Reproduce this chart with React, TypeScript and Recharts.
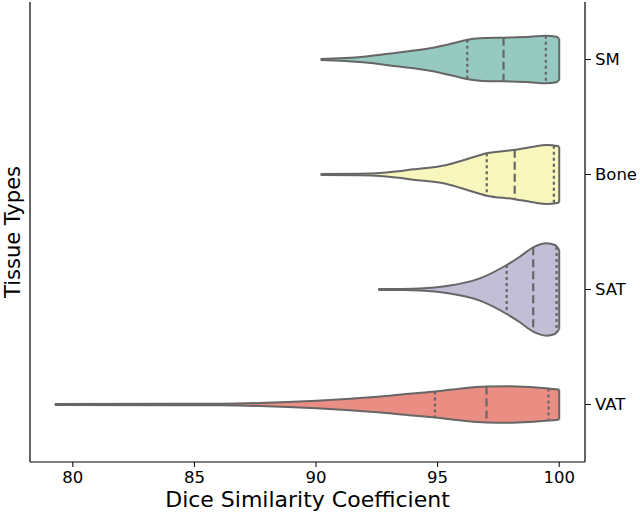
/** Dice similarity per tissue type — horizontal violins with quartile lines. */
import { Area, ComposedChart, ReferenceLine, XAxis, YAxis } from 'recharts'

const categories = ['SM', 'Bone', 'SAT', 'VAT']
const xTicks = [80, 85, 90, 95, 100]

// profile of each violin: dice value -> half width (in category units)
const smDice = [90.19, 91.94, 93.32, 94.69, 95.64, 96.19, 96.74, 97.71, 98.8, 99.45, 99.89, 100.0]
const smDensity = [0.004, 0.024, 0.059, 0.097, 0.141, 0.17, 0.184, 0.19, 0.198, 0.207, 0.198, 0.178]
const smQuartiles = [96.22, 97.71, 99.45]

const boneDice = [90.19, 91.8, 92.63, 93.3, 94.0, 95.37, 96.19, 97.02, 98.11, 98.93, 99.48, 99.96, 100.0]
const boneDensity = [0.004, 0.006, 0.012, 0.026, 0.045, 0.083, 0.132, 0.184, 0.213, 0.242, 0.257, 0.245, 0.24]
const boneQuartiles = [97.02, 98.17, 99.78]

const satDice = [92.56, 93.6, 94.27, 95.37, 96.74, 97.84, 98.38, 98.93, 99.48, 99.82, 100.0]
const satDensity = [0.004, 0.005, 0.009, 0.03, 0.097, 0.213, 0.285, 0.367, 0.402, 0.387, 0.343]
const satQuartiles = [97.84, 98.93, 99.89]

const vatDice = [79.26, 86.1, 87.67, 90.02, 92.38, 93.95, 94.89, 96.0, 97.01, 97.9, 98.8, 99.56, 100.0]
const vatDensity = [0.004, 0.007, 0.013, 0.033, 0.066, 0.096, 0.113, 0.14, 0.156, 0.159, 0.152, 0.14, 0.13]
const vatQuartiles = [94.89, 97.01, 99.56]

const COLORS = ['#96cac1', '#f6f6bd', '#c1bed6', '#ea8d83']
const GRAY = '#666666'
const FONT = '"DejaVu Sans", sans-serif'
const X_DOMAIN: [number, number] = [78.24, 101.06]
const Y_DOMAIN: [number, number] = [-0.5, 3.5]

const violins = [
  { name: 'SM', dice: smDice, density: smDensity, quartiles: smQuartiles },
  { name: 'Bone', dice: boneDice, density: boneDensity, quartiles: boneQuartiles },
  { name: 'SAT', dice: satDice, density: satDensity, quartiles: satQuartiles },
  { name: 'VAT', dice: vatDice, density: vatDensity, quartiles: vatQuartiles },
]

// one row per profile sample, each row only carries its own violin's range
const rows = violins.flatMap((v, i) =>
  v.dice.map((x, j) => ({ x, [v.name]: [i - v.density[j], i + v.density[j]] })),
)

function widthAt(dice: number[], density: number[], q: number) {
  for (let j = 1; j < dice.length; j++) {
    if (q <= dice[j]) {
      const t = (q - dice[j - 1]) / (dice[j] - dice[j - 1])
      return density[j - 1] + t * (density[j] - density[j - 1])
    }
  }
  return density[density.length - 1]
}

export default function App() {
  return (
    <div style={{ position: 'absolute', left: 0, top: 0, width: 640, height: 514, background: '#fff' }}>
      <ComposedChart width={640} height={514} data={rows} margin={{ top: 2, right: 0, bottom: 0, left: 0 }}>
        <XAxis
          dataKey="x"
          type="number"
          domain={X_DOMAIN}
          allowDataOverflow
          ticks={xTicks}
          height={52}
          tickSize={5}
          tickMargin={4}
          axisLine={{ stroke: '#000', strokeWidth: 1.2 }}
          tickLine={{ stroke: '#000', strokeWidth: 1 }}
          tick={{ fill: '#000', fontSize: 16.5, fontFamily: FONT }}
          label={{
            value: 'Dice Similarity Coefficient',
            position: 'insideBottom',
            offset: 7,
            fill: '#000',
            fontSize: 22,
            fontFamily: FONT,
          }}
        />
        <XAxis
          xAxisId="top"
          orientation="top"
          dataKey="x"
          type="number"
          domain={X_DOMAIN}
          allowDataOverflow
          height={0}
          tick={false}
          tickLine={false}
          axisLine={{ stroke: '#000', strokeWidth: 1.2 }}
        />
        <YAxis
          type="number"
          orientation="right"
          domain={Y_DOMAIN}
          reversed
          allowDataOverflow
          ticks={[0, 1, 2, 3]}
          tickFormatter={(v) => categories[v] ?? ''}
          width={55}
          tickSize={6}
          tickMargin={4}
          axisLine={{ stroke: '#000', strokeWidth: 1.2 }}
          tickLine={{ stroke: '#000', strokeWidth: 1 }}
          tick={{ fill: '#000', fontSize: 16.5, fontFamily: FONT }}
        />
        <YAxis
          yAxisId="frame"
          orientation="left"
          type="number"
          domain={Y_DOMAIN}
          width={30}
          tick={false}
          tickLine={false}
          axisLine={{ stroke: '#000', strokeWidth: 1.2 }}
          label={{
            value: 'Tissue Types',
            angle: -90,
            position: 'center',
            dx: -2,
            fill: '#000',
            fontSize: 21,
            fontFamily: FONT,
          }}
        />
        {violins.map((v, i) => (
          <Area
            key={v.name}
            dataKey={v.name}
            type="monotone"
            connectNulls
            fill={COLORS[i]}
            fillOpacity={1}
            stroke={GRAY}
            strokeWidth={2}
            dot={false}
            activeDot={false}
            isAnimationActive={false}
          />
        ))}
        {violins.map((v, i) => {
          const last = v.dice.length - 1
          const d = v.density[last]
          return (
            <ReferenceLine
              key={`${v.name}-end`}
              segment={[
                { x: v.dice[last], y: i - d },
                { x: v.dice[last], y: i + d },
              ]}
              stroke={GRAY}
              strokeWidth={2}
            />
          )
        })}
        {violins.flatMap((v, i) =>
          v.quartiles.map((q, k) => {
            const d = widthAt(v.dice, v.density, q)
            return (
              <ReferenceLine
                key={`${v.name}-q${k}`}
                segment={[
                  { x: q, y: i - d },
                  { x: q, y: i + d },
                ]}
                stroke={GRAY}
                strokeWidth={2.2}
                strokeDasharray={k === 1 ? '8 4' : '3 3'}
              />
            )
          }),
        )}
      </ComposedChart>
    </div>
  )
}
